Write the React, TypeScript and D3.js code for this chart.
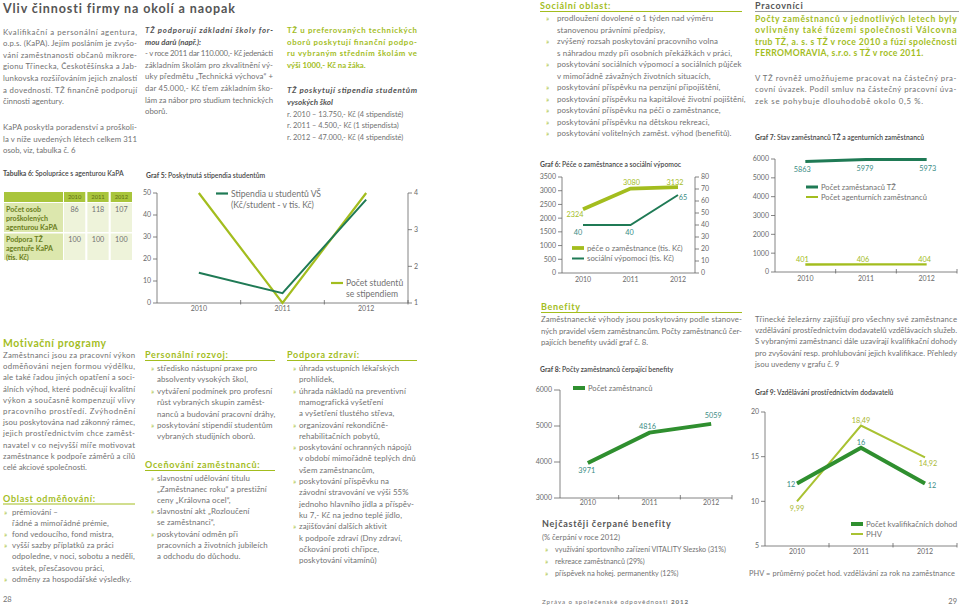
import React from "react";
import * as d3 from "d3";

// values read from the page
const years = ["2010", "2011", "2012"];
const kapaTrained = [86, 118, 107];
const kapaSupport = [100, 100, 100];
const stipendAmount = [13.75, 4.5, 47];
const stipendCount = [4, 1, 4];
const careCosts = [2324, 3080, 3132];
const socialAid = [40, 40, 65];
const staffTZ = [5863, 5979, 5973];
const agencyStaff = [401, 406, 404];
const benefitStaff = [3971, 4816, 5059];
const qualAgreements = [12, 16, 12];
const phvHours = [9.99, 18.49, 14.92];

const g5LeftTicks = [0, 10, 20, 30, 40, 50];
const g5RightTicks = [1, 2, 3, 4];
const g6LeftTicks = [0, 500, 1000, 1500, 2000, 2500, 3000, 3500];
const g6RightTicks = [0, 10, 20, 30, 40, 50, 60, 70, 80];
const g7Ticks = [0, 1000, 2000, 3000, 4000, 5000, 6000];
const g8Ticks = [3000, 4000, 5000, 6000];
const g9Ticks = [5, 10, 15, 20];

const FONT = "Lato, 'Open Sans', sans-serif";
const TEXT = "#727272";
const DARK = "#4a4a4a";
const LIME = "#a3bd1e";
const TEAL = "#1f7a55";
const GREEN = "#2f8f2f";
const LBL = "#3a8c84";
const AXIS = "#666";
const TICK = "#6a6a6a";

const fmtComma = (v: number) => String(v).replace(".", ",");

function Para({ x, y, lh, lines, width, justify = true, size = 7.8, fill = TEXT, weight, italic, ls }: any) {
  return (
    <g>
      {lines.map((l: string, i: number) => (
        <text key={i} x={x} y={y + i * lh} fontSize={size} fill={fill} fontWeight={weight}
          fontStyle={italic ? "italic" : undefined} letterSpacing={ls}
          textLength={justify && i < lines.length - 1 ? width : undefined} lengthAdjust="spacing">{l}</text>
      ))}
    </g>
  );
}

function Bullets({ bx, tx, y, lh, items, size = 7.9, ls = 0.1, fill = TEXT }: any) {
  const out: any[] = [];
  let row = 0;
  items.forEach((item: string[], k: number) => {
    item.forEach((line, j) => {
      const yy = y + row * lh;
      if (j === 0) out.push(<text key={`b${k}`} x={bx} y={yy} fontSize={7.6} fill={LIME}>»</text>);
      out.push(<text key={`t${k}-${j}`} x={tx} y={yy} fontSize={size} letterSpacing={ls} fill={fill}>{line}</text>);
      row++;
    });
  });
  return <g>{out}</g>;
}

function Heading({ x, y, text, width, size = 9, fill = LIME, rule = LIME, ls = 0.7 }: any) {
  return (
    <g>
      <text x={x} y={y} fontSize={size} fontWeight={700} fill={fill} letterSpacing={ls}>{text}</text>
      <line x1={x} x2={x + width} y1={y + 2.5} y2={y + 2.5} stroke={rule} strokeWidth={1} />
    </g>
  );
}

function GrafTitle({ x, y, num, text }: any) {
  return (
    <text x={x} y={y} fontSize={6.8} fill={DARK} fontWeight={700}>
      {`Graf ${num}: `}<tspan fontWeight={600}>{text}</tspan>
    </text>
  );
}

function YAxis({ scale, ticks, x, side = "left", len = 4, fmt }: any) {
  const [r0, r1] = scale.range();
  const dir = side === "left" ? -1 : 1;
  return (
    <g>
      <line x1={x} x2={x} y1={r0} y2={r1} stroke={AXIS} strokeWidth={0.8} />
      {ticks.map((t: number) => (
        <g key={t}>
          <line x1={x} x2={x + dir * len} y1={scale(t)} y2={scale(t)} stroke={AXIS} strokeWidth={0.8} />
          <text x={x + dir * (len + 2)} y={scale(t)} dy="0.35em" fontSize={7} fill={TICK}
            textAnchor={side === "left" ? "end" : "start"}>{fmt ? fmt(t) : t}</text>
        </g>
      ))}
    </g>
  );
}

function XAxis({ scale, y, x0, x1, ticks = true, labelDy = 9 }: any) {
  const bw = scale.bandwidth ? scale.bandwidth() : 0;
  const bounds = scale.bandwidth ? years.slice(1).map((d) => scale(d)).concat([x1]) : [];
  return (
    <g>
      <line x1={x0} x2={x1} y1={y} y2={y} stroke={AXIS} strokeWidth={0.8} />
      {ticks && bounds.map((b: number, i: number) => (
        <line key={i} x1={b} x2={b} y1={y - 3} y2={y + 1.5} stroke={AXIS} strokeWidth={0.8} />
      ))}
      {years.map((yr) => (
        <text key={yr} x={scale(yr) + bw / 2} y={y + labelDy} fontSize={7} fill={TICK} textAnchor="middle">{yr}</text>
      ))}
    </g>
  );
}

function Series({ xs, ys, values, stroke, width }: any) {
  const bw = xs.bandwidth ? xs.bandwidth() / 2 : 0;
  const line = d3.line<number>().x((_, i) => xs(years[i]) + bw).y((d) => ys(d));
  return <path d={line(values) || ""} fill="none" stroke={stroke} strokeWidth={width} strokeLinejoin="miter" />;
}

function ValueLabels({ xs, ys, values, offsets, fill, fmt }: any) {
  const bw = xs.bandwidth ? xs.bandwidth() / 2 : 0;
  return (
    <g>
      {values.map((v: number, i: number) => (
        <text key={i} x={xs(years[i]) + bw + offsets[i][0]} y={ys(v) + offsets[i][1]} dy="0.35em"
          fontSize={7.3} fill={fill} textAnchor="middle">{fmt ? fmt(v) : v}</text>
      ))}
    </g>
  );
}

function LegendItem({ x, y, color, width, text, size = 7.6, lines }: any) {
  const ls: string[] = lines || [text];
  return (
    <g>
      <line x1={x} x2={x + 12} y1={y} y2={y} stroke={color} strokeWidth={width} />
      {ls.map((l, i) => (
        <text key={i} x={x + 15} y={y + i * 11} dy="0.35em" fontSize={size} fill={TEXT}>{l}</text>
      ))}
    </g>
  );
}

export default function App() {
  // Graf 5
  const x5 = d3.scaleBand<string>().domain(years).range([157, 408]);
  const y5L = d3.scaleLinear().domain([0, 50]).range([303, 193]);
  const y5R = d3.scaleLinear().domain([1, 4]).range([303, 193]);
  // Graf 6
  const x6 = d3.scalePoint<string>().domain(years).range([583, 678]);
  const y6L = d3.scaleLinear().domain([0, 3500]).range([273, 177]);
  const y6R = d3.scaleLinear().domain([0, 80]).range([273, 177]);
  // Graf 7
  const x7 = d3.scaleBand<string>().domain(years).range([775, 957]);
  const y7 = d3.scaleLinear().domain([0, 6000]).range([272, 159]);
  // Graf 8
  const x8 = d3.scaleBand<string>().domain(years).range([557, 742]);
  const y8 = d3.scaleLinear().domain([3000, 6000]).range([498, 390]);
  // Graf 9
  const x9 = d3.scaleBand<string>().domain(years).range([765, 957]);
  const y9 = d3.scaleLinear().domain([5, 20]).range([546, 412]);

  // Tabulka 6
  const tx = d3.scaleBand<string>().domain(years).range([64, 132]).paddingInner(0.09);
  const tableRows = [
    { label: ["Počet osob", "proškolených", "agenturou KaPA"], values: kapaTrained, y0: 203, y1: 232 },
    { label: ["Podpora TŽ", "agentuře KaPA", "(tis. Kč)"], values: kapaSupport, y0: 233.5, y1: 260 },
  ];

  return (
    <div style={{ position: "absolute", left: 0, top: 0 }}>
      <svg width={959} height={607} fontFamily={FONT} style={{ display: "block", background: "#fff" }}>
        {/* ---------- left page ---------- */}
        <text x={3} y={12.5} fontSize={12.5} fontWeight={700} fill="#555" letterSpacing={0.9}>Vliv činnosti firmy na okolí a naopak</text>

        <Para x={3} y={34.5} lh={11.6} width={134} lines={[
          "Kvalifikační a personální agentura,",
          "o.p.s. (KaPA). Jejím posláním je zvyšo-",
          "vání zaměstnanosti občanů mikrore-",
          "gionu Třinecka, Českotěšínska a Jab-",
          "lunkovska rozšiřováním jejich znalostí",
          "a dovedností. TŽ finančně podporují",
          "činnosti agentury.",
        ]} />
        <Para x={3} y={130} lh={11.6} width={134} lines={[
          "KaPA poskytla poradenství a proškoli-",
          "la v níže uvedených létech celkem 311",
          "osob, viz, tabulka č. 6",
        ]} />

        <text x={3} y={176} fontSize={6.8} fill={DARK} fontWeight={700}>Tabulka 6: <tspan fontWeight={600}>Spolupráce s agenturou KaPA</tspan></text>
        {/* table */}
        <rect x={4} y={192} width={59} height={10} fill="#a9c53c" />
        {years.map((yr) => (
          <g key={yr}>
            <rect x={tx(yr)} y={192} width={tx.bandwidth()} height={10} fill="#a9c53c" />
            <text x={(tx(yr) as number) + tx.bandwidth() / 2} y={197} dy="0.35em" fontSize={5.8} fill="#5e6e16" textAnchor="middle">{yr}</text>
          </g>
        ))}
        {tableRows.map((r, k) => (
          <g key={k}>
            <rect x={4} y={r.y0} width={59} height={r.y1 - r.y0} fill="#dce7ad" />
            {r.label.map((l, i) => (
              <text key={i} x={6} y={r.y0 + 8.5 + i * 9} fontSize={7.1} fontWeight={700} fill="#6b7e1c">{l}</text>
            ))}
            {r.values.map((v, i) => (
              <g key={i}>
                <rect x={tx(years[i])} y={r.y0} width={tx.bandwidth()} height={r.y1 - r.y0} fill="#eef3da" />
                <text x={(tx(years[i]) as number) + tx.bandwidth() / 2} y={r.y0 + 8.5} fontSize={7.2} fill={TEXT} textAnchor="middle">{v}</text>
              </g>
            ))}
          </g>
        ))}

        {/* middle column */}
        <Para x={145} y={33} lh={11.6} width={128} weight={700} italic fill="#555" lines={[
          "TŽ podporují základní školy for-",
          "mou darů (např.):",
        ]} />
        <Para x={145} y={56.2} lh={11.6} width={128} lines={[
          "- v roce 2011 dar 110.000,- Kč jedenácti",
          "základním školám pro zkvalitnění vý-",
          "uky předmětu „Technická výchova“ +",
          "dar 45.000,- Kč třem základním ško-",
          "lám za nábor pro studium technických",
          "oborů.",
        ]} />
        <Para x={287} y={33} lh={11.7} width={130} weight={700} fill={LIME} lines={[
          "TŽ u preferovaných technických",
          "oborů poskytují finanční podpo-",
          "ru vybraným středním školám ve",
          "výši 1000,- Kč na žáka.",
        ]} />
        <Para x={287} y={93.3} lh={11.7} width={130} weight={700} italic fill="#555" size={8} lines={[
          "TŽ poskytují stipendia studentům",
          "vysokých škol",
        ]} />
        <Para x={287} y={116.5} lh={11.7} justify={false} size={7.4} lines={[
          "r. 2010 – 13.750,- Kč (4 stipendisté)",
          "r. 2011 – 4.500,- Kč (1 stipendista)",
          "r. 2012 – 47.000,- Kč (4 stipendisté)",
        ]} />

        {/* Graf 5 */}
        <GrafTitle x={146} y={177.5} num={5} text="Poskytnutá stipendia studentům" />
        <YAxis scale={y5L} ticks={g5LeftTicks} x={157} side="left" />
        <YAxis scale={y5R} ticks={g5RightTicks} x={408} side="right" />
        <XAxis scale={x5} y={303} x0={157} x1={408} labelDy={8} />
        <Series xs={x5} ys={y5R} values={stipendCount} stroke={LIME} width={2.2} />
        <Series xs={x5} ys={y5L} values={stipendAmount} stroke={TEAL} width={2} />
        <LegendItem x={216} y={193.5} color={TEAL} width={2.2} size={8.6} lines={["Stipendia u studentů VŠ", "(Kč/student - v tis. Kč)"]} />
        <LegendItem x={331} y={283} color={LIME} width={2.2} size={8.6} lines={["Počet studentů", "se stipendiem"]} />

        {/* Motivační programy */}
        <text x={3} y={347} fontSize={10.4} fontWeight={700} fill={LIME} letterSpacing={0.6}>Motivační programy</text>
        <Para x={3} y={358} lh={11.2} width={132} lines={[
          "Zaměstnanci jsou za pracovní výkon",
          "odměňováni nejen formou výdělku,",
          "ale také řadou jiných opatření a soci-",
          "álních výhod, které podněcují kvalitní",
          "výkon a současně kompenzují vlivy",
          "pracovního prostředí. Zvýhodnění",
          "jsou poskytována nad zákonný rámec,",
          "jejich prostřednictvím chce zaměst-",
          "navatel v co nejvyšší míře motivovat",
          "zaměstnance k podpoře záměrů a cílů",
          "celé akciové společnosti.",
        ]} />
        <Heading x={3} y={501.5} width={132} text="Oblast odměňování:" />
        <Bullets bx={4} tx={12} y={515} lh={11.1} items={[
          ["prémiování –", "řádné a mimořádné prémie,"],
          ["fond vedoucího, fond mistra,"],
          ["vyšší sazby příplatků za práci", "odpoledne, v noci, sobotu a neděli,", "svátek, přesčasovou práci,"],
          ["odměny za hospodářské výsledky."],
        ]} />
        <text x={3} y={602} fontSize={7.5} fill={TEXT}>28</text>

        <Heading x={145} y={358} width={130} text="Personální rozvoj:" />
        <Bullets bx={151} tx={157} y={371} lh={11.4} items={[
          ["středisko nástupní praxe pro", "absolventy vysokých škol,"],
          ["vytváření podmínek pro profesní", "růst vybraných skupin zaměst-", "nanců a budování pracovní dráhy,"],
          ["poskytování stipendií studentům", "vybraných studijních oborů."],
        ]} />
        <Heading x={145} y={468} width={130} text="Oceňování zaměstnanců:" />
        <Bullets bx={151} tx={157} y={480.5} lh={11.2} items={[
          ["slavnostní udělování titulu", "„Zaměstnanec roku“ a prestižní", "ceny „Královna ocel“,"],
          ["slavnostní akt „Rozloučení", "se zaměstnanci“,"],
          ["poskytování odměn při", "pracovních a životních jubileích", "a odchodu do důchodu."],
        ]} />
        <Heading x={287} y={358} width={130} text="Podpora zdraví:" />
        <Bullets bx={293} tx={299} y={371} lh={11.3} items={[
          ["úhrada vstupních lékařských", "prohlídek,"],
          ["úhrada nákladů na preventivní", "mamografická vyšetření", "a vyšetření tlustého střeva,"],
          ["organizování rekondičně-", "rehabilitačních pobytů,"],
          ["poskytování ochranných nápojů", "v období mimořádně teplých dnů", "všem zaměstnancům,"],
          ["poskytování příspěvku na", "závodní stravování ve výši 55%", "jednoho hlavního jídla a příspěv-", "ku 7,- Kč na jedno teplé jídlo,"],
          ["zajišťování dalších aktivit", "k podpoře zdraví (Dny zdraví,", "očkování proti chřipce,", "poskytování vitamínů)"],
        ]} />

        {/* ---------- right page ---------- */}
        <Heading x={540} y={9} width={202} text="Sociální oblast:" />
        <Bullets bx={546} tx={557} y={21} lh={11.5} items={[
          ["prodloužení dovolené o 1 týden nad výměru", "stanovenou právními předpisy,"],
          ["zvýšený rozsah poskytování pracovního volna", "s náhradou mzdy při osobních překážkách v práci,"],
          ["poskytování sociálních výpomocí a sociálních půjček", "v mimořádně závažných životních situacích,"],
          ["poskytování příspěvku na penzijní připojištění,"],
          ["poskytování příspěvku na kapitálové životní pojištění,"],
          ["poskytování příspěvku na péči o zaměstnance,"],
          ["poskytování příspěvku na dětskou rekreaci,"],
          ["poskytování volitelných zaměst. výhod (benefitů)."],
        ]} />

        <Heading x={755} y={9} width={204} text="Pracovníci" fill="#555" rule="#999" />
        <Para x={755} y={21.5} lh={11.6} width={202} size={8.6} weight={700} fill={LIME} ls={0.3} lines={[
          "Počty zaměstnanců v jednotlivých letech byly",
          "ovlivněny také fúzemi společnosti Válcovna",
          "trub TŽ, a. s. s TŽ v roce 2010 a fúzí společnosti",
          "FERROMORAVIA, s.r.o. s TŽ v roce 2011.",
        ]} />
        <Para x={755} y={80.5} lh={11.6} width={202} size={7.8} ls={0.7} lines={[
          "V TŽ rovněž umožňujeme pracovat na částečný pra-",
          "covní úvazek. Podíl smluv na částečný pracovní úva-",
          "zek se pohybuje dlouhodobě okolo 0,5 %.",
        ]} />

        {/* Graf 6 */}
        <GrafTitle x={540} y={166.5} num={6} text=" Péče o zaměstnance a sociální výpomoc" />
        <YAxis scale={y6L} ticks={g6LeftTicks} x={562} side="left" />
        <YAxis scale={y6R} ticks={g6RightTicks} x={695} side="right" />
        <XAxis scale={x6} y={273} x0={562} x1={695} ticks={false} labelDy={9} />
        <Series xs={x6} ys={y6L} values={careCosts} stroke={LIME} width={3.8} />
        <Series xs={x6} ys={y6R} values={socialAid} stroke={TEAL} width={2} />
        <ValueLabels xs={x6} ys={y6L} values={careCosts} fill={LIME} offsets={[[-8, 5], [1, -6], [-3, -5]]} />
        <ValueLabels xs={x6} ys={y6R} values={socialAid} fill={LBL} offsets={[[-5, 7], [-1, 7], [5, 2]]} />
        <LegendItem x={572} y={248} color={LIME} width={3.8} text="péče o zaměstnance (tis. Kč)" size={7.8} />
        <LegendItem x={572} y={258.5} color={TEAL} width={2} text="sociální výpomoci (tis. Kč)" size={7.8} />

        {/* Graf 7 */}
        <GrafTitle x={755} y={140} num={7} text=" Stav zaměstnanců TŽ a agenturních zaměstnanců" />
        <YAxis scale={y7} ticks={g7Ticks} x={775} side="left" />
        <XAxis scale={x7} y={272} x0={775} x1={957} labelDy={9} />
        <Series xs={x7} ys={y7} values={staffTZ} stroke={TEAL} width={3} />
        <Series xs={x7} ys={y7} values={agencyStaff} stroke={LIME} width={2.4} />
        <ValueLabels xs={x7} ys={y7} values={staffTZ} fill={LBL} offsets={[[-3, 7.5], [-1, 9], [1, 9]]} />
        <ValueLabels xs={x7} ys={y7} values={agencyStaff} fill={LIME} offsets={[[-3, -5], [-3, -5], [-2, -5]]} />
        <LegendItem x={806} y={187} color={TEAL} width={3} text="Počet zaměstanaců TŽ" />
        <LegendItem x={806} y={197} color={LIME} width={2} text="Počet agenturních zaměstnanců" />

        {/* Benefity */}
        <Heading x={541} y={310} width={201} text="Benefity" />
        <Para x={541} y={322} lh={11.5} width={201} size={7.8} lines={[
          "Zaměstnanecké výhody jsou poskytovány podle stanove-",
          "ných pravidel všem zaměstnancům. Počty zaměstnanců čer-",
          "pajících benefity uvádí graf č. 8.",
        ]} />
        <Para x={755} y={322} lh={11.2} width={202} size={7.8} lines={[
          "Třinecké železárny zajišťují pro všechny své zaměstnance",
          "vzdělávání prostřednictvím dodavatelů vzdělávacích služeb.",
          "S vybranými zaměstnanci dále uzavírají kvalifikační dohody",
          "pro zvyšování resp. prohlubování jejich kvalifikace. Přehledy",
          "jsou uvedeny v grafu č. 9",
        ]} />

        {/* Graf 8 */}
        <GrafTitle x={540} y={372} num={8} text=" Počty zaměstnanců čerpající benefity" />
        <YAxis scale={y8} ticks={g8Ticks} x={560} side="left" len={6} />
        <XAxis scale={x8} y={498} x0={560} x1={732} labelDy={7} />
        <Series xs={x8} ys={y8} values={benefitStaff} stroke={GREEN} width={4} />
        <ValueLabels xs={x8} ys={y8} values={benefitStaff} fill={LBL} offsets={[[-1, 7], [-2, -6], [2, -8]]} />
        <LegendItem x={573} y={388} color={GREEN} width={4} text="Počet zaměstnanců" />

        <text x={542} y={527} fontSize={9} fontWeight={700} fill="#555" letterSpacing={0.75}>Nejčastěji čerpané benefity</text>
        <text x={542} y={540} fontSize={7.6} fill={TEXT}>(% čerpání v roce 2012)</text>
        <Bullets bx={545} tx={555} y={552} lh={12} size={7.2} ls={0} items={[
          ["využívání sportovního zařízení VITALITY Slezsko (31%)"],
          ["rekreace zaměstnanců (29%)"],
          ["příspěvek na hokej. permanentky (12%)"],
        ]} />
        <text x={542} y={604} fontSize={6.2} fill={TEXT} letterSpacing={0.9}>Zpráva o společenské odpovědnosti <tspan fontWeight={700}>2012</tspan></text>

        {/* Graf 9 */}
        <GrafTitle x={755} y={394.5} num={9} text=" Vzdělávání prostřednictvím dodavatelů" />
        <YAxis scale={y9} ticks={g9Ticks} x={765} side="left" />
        <XAxis scale={x9} y={546} x0={765} x1={957} labelDy={8} />
        <Series xs={x9} ys={y9} values={phvHours} stroke="#a9c232" width={2} />
        <Series xs={x9} ys={y9} values={qualAgreements} stroke={GREEN} width={4} />
        <ValueLabels xs={x9} ys={y9} values={qualAgreements} fill={LBL} offsets={[[-6, 1], [0, -5], [7, 2]]} />
        <ValueLabels xs={x9} ys={y9} values={phvHours} fill="#a9b832" fmt={fmtComma} offsets={[[0, 7], [0, -5], [3, 6]]} />
        <LegendItem x={851} y={524} color={GREEN} width={4} text="Počet kvalifikačních dohod" size={7.8} />
        <LegendItem x={851} y={534} color="#a9c232" width={2} text="PHV" size={7.8} />
        <text x={749} y={576} fontSize={7.4} fill={TEXT} textLength={206} lengthAdjust="spacing">PHV = průměrný počet hod. vzdělávání za rok na zaměstnance</text>
        <text x={957} y={604} fontSize={7.5} fill={TEXT} textAnchor="end">29</text>
      </svg>
    </div>
  );
}
